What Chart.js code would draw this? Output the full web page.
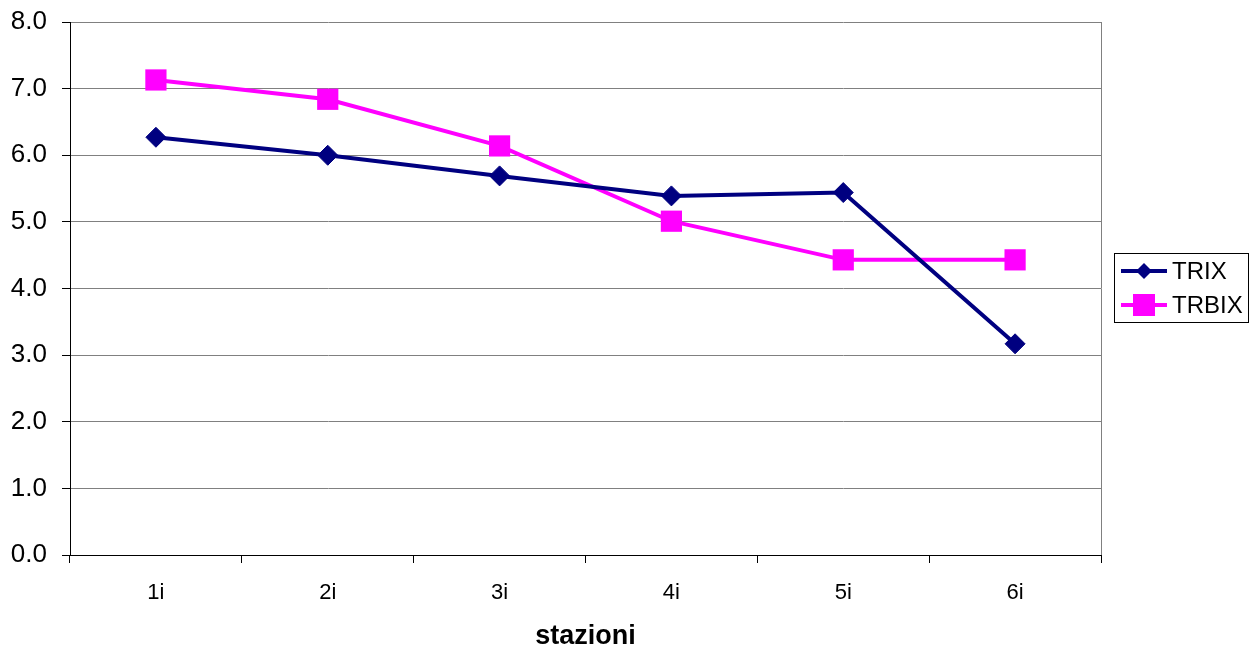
<!DOCTYPE html>
<html>
<head>
<meta charset="utf-8">
<script src="https://cdn.jsdelivr.net/npm/chart.js@4/dist/chart.umd.min.js"></script>
<style>
html,body{margin:0;padding:0;background:#fff;}
#wrap{width:1252px;height:650px;}
</style>
</head>
<body>
<div id="wrap"><canvas id="c" width="1252" height="650"></canvas></div>
<script>
const categories = ['1i','2i','3i','4i','5i','6i'];
const trix = [6.27, 6.00, 5.69, 5.39, 5.44, 3.17];
const trbix = [7.13, 6.84, 6.14, 5.01, 4.43, 4.43];
const seriesNames = ['TRIX','TRBIX'];
const yTicks = [0,1,2,3,4,5,6,7,8];
const xTitle = 'stazioni';

const FONT = '"Liberation Sans", Arial, sans-serif';

const frame = {
  id: 'frame',
  afterDraw(chart) {
    const {ctx, chartArea: a} = chart;
    ctx.save();
    ctx.strokeStyle = '#808080';
    ctx.lineWidth = 1;
    ctx.beginPath();
    ctx.moveTo(Math.round(a.right) + 0.5, a.top);
    ctx.lineTo(Math.round(a.right) + 0.5, a.bottom);
    ctx.stroke();
    // legend
    const bx = 1114.5, by = 253.5, bw = 134, bh = 69;
    ctx.fillStyle = '#fff';
    ctx.fillRect(bx, by, bw, bh);
    ctx.strokeStyle = '#000';
    ctx.strokeRect(bx, by, bw, bh);
    const rows = [271, 305];
    chart.data.datasets.forEach((ds, i) => {
      const y = rows[i];
      ctx.strokeStyle = ds.borderColor;
      ctx.lineWidth = 4;
      ctx.beginPath();
      ctx.moveTo(1121, y);
      ctx.lineTo(1167, y);
      ctx.stroke();
      ctx.fillStyle = ds.borderColor;
      if (i === 0) {
        ctx.beginPath();
        ctx.moveTo(1144 - 8, y);
        ctx.lineTo(1144, y - 8);
        ctx.lineTo(1144 + 8, y);
        ctx.lineTo(1144, y + 8);
        ctx.closePath();
        ctx.fill();
      } else {
        ctx.fillRect(1144 - 11, y - 11, 22, 22);
      }
      ctx.fillStyle = '#000';
      ctx.font = '24px ' + FONT;
      ctx.textBaseline = 'middle';
      ctx.textAlign = 'left';
      ctx.fillText(ds.label, 1172, y + 1);
    });
    ctx.restore();
  }
};

new Chart(document.getElementById('c'), {
  type: 'line',
  data: {
    labels: categories,
    datasets: [
      {
        label: seriesNames[0], data: trix,
        borderColor: '#000080', backgroundColor: '#000080',
        borderWidth: 4, pointStyle: 'rectRot', pointRadius: 10,
        pointBorderWidth: 1, pointBackgroundColor: '#000080', pointBorderColor: '#000080',
        tension: 0
      },
      {
        label: seriesNames[1], data: trbix,
        borderColor: '#FF00FF', backgroundColor: '#FF00FF',
        borderWidth: 4, pointStyle: 'rect', pointRadius: 15,
        pointBorderWidth: 0, pointBackgroundColor: '#FF00FF', pointBorderColor: '#FF00FF',
        tension: 0
      }
    ]
  },
  options: {
    responsive: false,
    animation: false,
    devicePixelRatio: 1,
    layout: { padding: { top: 22, right: 151, left: 0, bottom: 0 } },
    plugins: { legend: { display: false }, tooltip: { enabled: false } },
    scales: {
      x: {
        offset: true,
        grid: { offset: true, drawOnChartArea: false, tickLength: 8, tickColor: '#000', color: '#000' },
        border: { color: '#000', width: 1 },
        ticks: { color: '#000', font: { family: FONT, size: 22 }, padding: 17, maxRotation: 0 },
        title: { display: true, text: xTitle, color: '#000', font: { family: FONT, size: 27, weight: 'bold', lineHeight: 1.0 }, padding: { top: 0, bottom: 0 } },
        afterFit(s) { s.height = 95; s.paddingLeft = 0; s.paddingRight = 0; }
      },
      y: {
        min: 0, max: 8,
        afterBuildTicks(s) { s.ticks = yTicks.map(v => ({ value: v })); },
        grid: { color: '#808080', tickLength: 8, tickColor: '#000', lineWidth: 1 },
        border: { color: '#000', width: 1 },
        ticks: { color: '#000', font: { family: FONT, size: 26 }, padding: 15, callback: v => Number(v).toFixed(1) },
        afterFit(s) { s.width = 70; s.paddingTop = 0; s.paddingBottom = 0; }
      }
    }
  },
  plugins: [frame]
});
</script>
</body>
</html>
